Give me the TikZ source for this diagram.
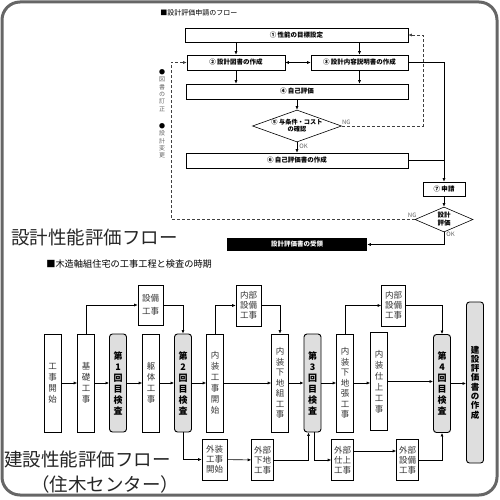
\documentclass[tikz,border=0pt]{standalone}
\usepackage{fontspec}
\setmainfont{Noto Sans CJK JP}
\usetikzlibrary{arrows.meta,shapes.geometric,positioning}

\begin{document}
\begin{tikzpicture}[x=1pt,y=-1pt,>={Latex[length=3.5pt,width=3pt]},line width=0.6pt,
  fbox/.style={draw,fill=white,inner sep=0pt,font=\fontsize{6.5}{8}\selectfont\bfseries},
  fdia/.style={draw,fill=white,diamond,inner ysep=0pt,align=center,font=\fontsize{6.2}{7}\selectfont\bfseries},
  vbox/.style={draw,inner sep=0pt,minimum width=17pt,minimum height=98pt,align=center,text=black!80,font=\fontsize{8.5}{11}\selectfont},
  kbox/.style={vbox,fill=black!13,rounded corners=3pt,line width=0.9pt,text=black,font=\fontsize{9}{11}\selectfont\bfseries},
  sbox/.style={draw,inner sep=0pt,minimum width=22pt,minimum height=41pt,align=center,text=black!80,font=\fontsize{8.5}{10}\selectfont},
  ngline/.style={dash pattern=on 3pt off 2pt,draw=black!75},
  lbl/.style={font=\fontsize{6}{7}\selectfont,text=black!60,inner sep=0pt},
  bigtext/.style={anchor=west,inner sep=0pt,text=black!85,font=\fontsize{18.5}{20}\selectfont}]
\useasboundingbox (0,0) rectangle (500,500);
\draw[black!60,line width=3pt,rounded corners=18pt] (2,2) rectangle (497,495);
\node[anchor=west,inner sep=0pt,font=\fontsize{7}{8}\selectfont] (h1) at (160,13) {■設計評価申請のフロー};
\node[fbox,minimum width=223pt,minimum height=14pt] (b1) at (296.5,35) {① 性能の目標設定};
\node[fbox,minimum width=98pt,minimum height=15pt] (b2) at (236,62.5) {② 設計図書の作成};
\node[fbox,minimum width=97pt,minimum height=15pt] (b3) at (359.5,62.5) {③ 設計内容説明書の作成};
\node[fbox,minimum width=222pt,minimum height=15pt] (b4) at (297,91.5) {④ 自己評価};
\node[fdia,inner xsep=-14pt,minimum width=89pt,minimum height=32pt,shape aspect=2.8] (d5) at (297,126) {⑤ 与条件・コスト\\の確認};
\node[fbox,minimum width=222pt,minimum height=15pt] (b6) at (297,160.5) {⑥ 自己評価書の作成};
\node[fbox,minimum width=42pt,minimum height=14pt] (b7) at (444,189) {⑦ 申請};
\node[fdia,inner xsep=0pt,minimum width=58pt,minimum height=25pt,shape aspect=2.3,font=\fontsize{6.5}{8}\selectfont\bfseries] (d8) at (444,219.5) {設計\\評価};
\node[fill=black,text=white,inner sep=0pt,minimum width=140pt,minimum height=13pt,font=\fontsize{6.5}{8}\selectfont\bfseries] (b9) at (297,244.5) {設計評価書の受領};
\node[lbl,anchor=north,align=center,font=\fontsize{6}{7.4}\selectfont] (s1) at (162,69) {{\color{black}●}\\図\\書\\の\\訂\\正};
\node[lbl,anchor=north,align=center,font=\fontsize{6}{7.4}\selectfont] (s2) at (162,123) {{\color{black}●}\\設\\計\\変\\更};
\coordinate (c1) at (423,126);
\coordinate (c2) at (171,219.5);
\draw[->] (b1.south -| b2.north) -- (b2.north);
\draw[->] (b1.south -| b3.north) -- (b3.north);
\draw[<->] (b2) -- (b3);
\draw[->] (b2.south) -- (b2.south |- b4.north);
\draw[->] (b3.south) -- (b3.south |- b4.north);
\draw[->] (b4) -- (d5);
\draw[->] (d5.south) -- (b6.north) node[lbl,anchor=west,pos=0.4,xshift=2pt] {OK};
\draw[ngline,->] (d5.east) -- node[lbl,anchor=south west,pos=0,yshift=1pt] {NG} (c1) |- (b1.east);
\draw[->] (b3.east) -| (b7.north);
\draw (b6.east) -- (b6.east -| b7.north);
\draw[->] (b7) -- (d8);
\draw[->] (d8.south) |- (b9.east) node[lbl,anchor=west,pos=0.1,xshift=2pt] {OK};
\draw[ngline,->] (d8.west) -- node[lbl,anchor=south east,pos=0,xshift=2pt,yshift=2pt] {NG} (c2) |- (b2.west);
\node[bigtext] (t1) at (11,237) {設計性能評価フロー};
\node[anchor=west,inner sep=0pt,font=\fontsize{9.2}{10}\selectfont] (h2) at (46,264) {■木造軸組住宅の工事工程と検査の時期};
\node[vbox] (m1) at (52.5,383) {工\\事\\開\\始};
\node[vbox] (m2) at (86,383) {基\\礎\\工\\事};
\node[kbox] (m3) at (118,383) {第\\1\\回\\目\\検\\査};
\node[vbox] (m4) at (151,383) {躯\\体\\工\\事};
\node[kbox] (m5) at (183,383) {第\\2\\回\\目\\検\\査};
\node[vbox] (m6) at (215,383) {内\\装\\工\\事\\開\\始};
\node[vbox,font=\fontsize{8.5}{10.5}\selectfont] (m7) at (280,383) {内\\装\\下\\地\\組\\工\\事};
\node[kbox] (m8) at (312.5,383) {第\\3\\回\\目\\検\\査};
\node[vbox,font=\fontsize{8.5}{10.5}\selectfont] (m9) at (345,383) {内\\装\\下\\地\\張\\工\\事};
\node[vbox] (m10) at (379,381.5) {内\\装\\仕\\上\\工\\事};
\node[kbox] (m11) at (442,383.5) {第\\4\\回\\目\\検\\査};
\node[kbox,minimum height=161pt,font=\fontsize{8.5}{9.3}\selectfont\bfseries] (m12) at (475,382.5) {建\\設\\評\\価\\書\\の\\作\\成};
\node[sbox,minimum width=25pt,minimum height=40pt,font=\fontsize{8.5}{13}\selectfont] (u1) at (150.5,305) {設備\\工事};
\node[sbox,minimum width=25pt] (u2) at (248.5,305.5) {内部\\設備\\工事};
\node[sbox,minimum width=24pt] (u3) at (393.5,305.5) {内部\\設備\\工事};
\node[sbox,minimum width=25pt] (l1) at (214.5,459.5) {外装\\工事\\開始};
\node[sbox] (l2) at (262.5,460) {外部\\下地\\工事};
\node[sbox] (l3) at (342.5,460) {外部\\仕上\\工事};
\node[sbox] (l4) at (407.5,460) {外部\\設備\\工事};
\foreach \a/\b in {m1/m2,m2/m3,m3/m4,m4/m5,m5/m6,m6/m7,m7/m8,m8/m9,m9/m10,m10/m11,m11/m12}
  \draw[->] (\a.east) -- (\a.east -| \b.west);
\draw[->] (m2.north) |- (u1.west);
\draw[->] (u1.east) -| (m5.north);
\draw[->] (m6.north) |- (u2.west);
\draw[->] (u2.east) -| (m7.north);
\draw[->] (m9.north) |- (u3.west);
\draw[->] (u3.east) -| (m11.north);
\draw[->] (m5.south) |- (l1.west);
\draw[->] (l1) -- (l2);
\draw[->] (l2.east) -| ([xshift=-4pt]m8.south);
\draw[->] ([xshift=2pt]m8.south) |- (l3.west);
\draw[->] ([yshift=9pt]l3.east) -- ([yshift=9pt]l4.west);
\draw[->] (l4.east) -| (m11.south);
\node[bigtext] (t2) at (4,459) {建設性能評価フロー};
\node[bigtext] (t3) at (31,484) {（住木センター）};
\end{tikzpicture}
\end{document}
